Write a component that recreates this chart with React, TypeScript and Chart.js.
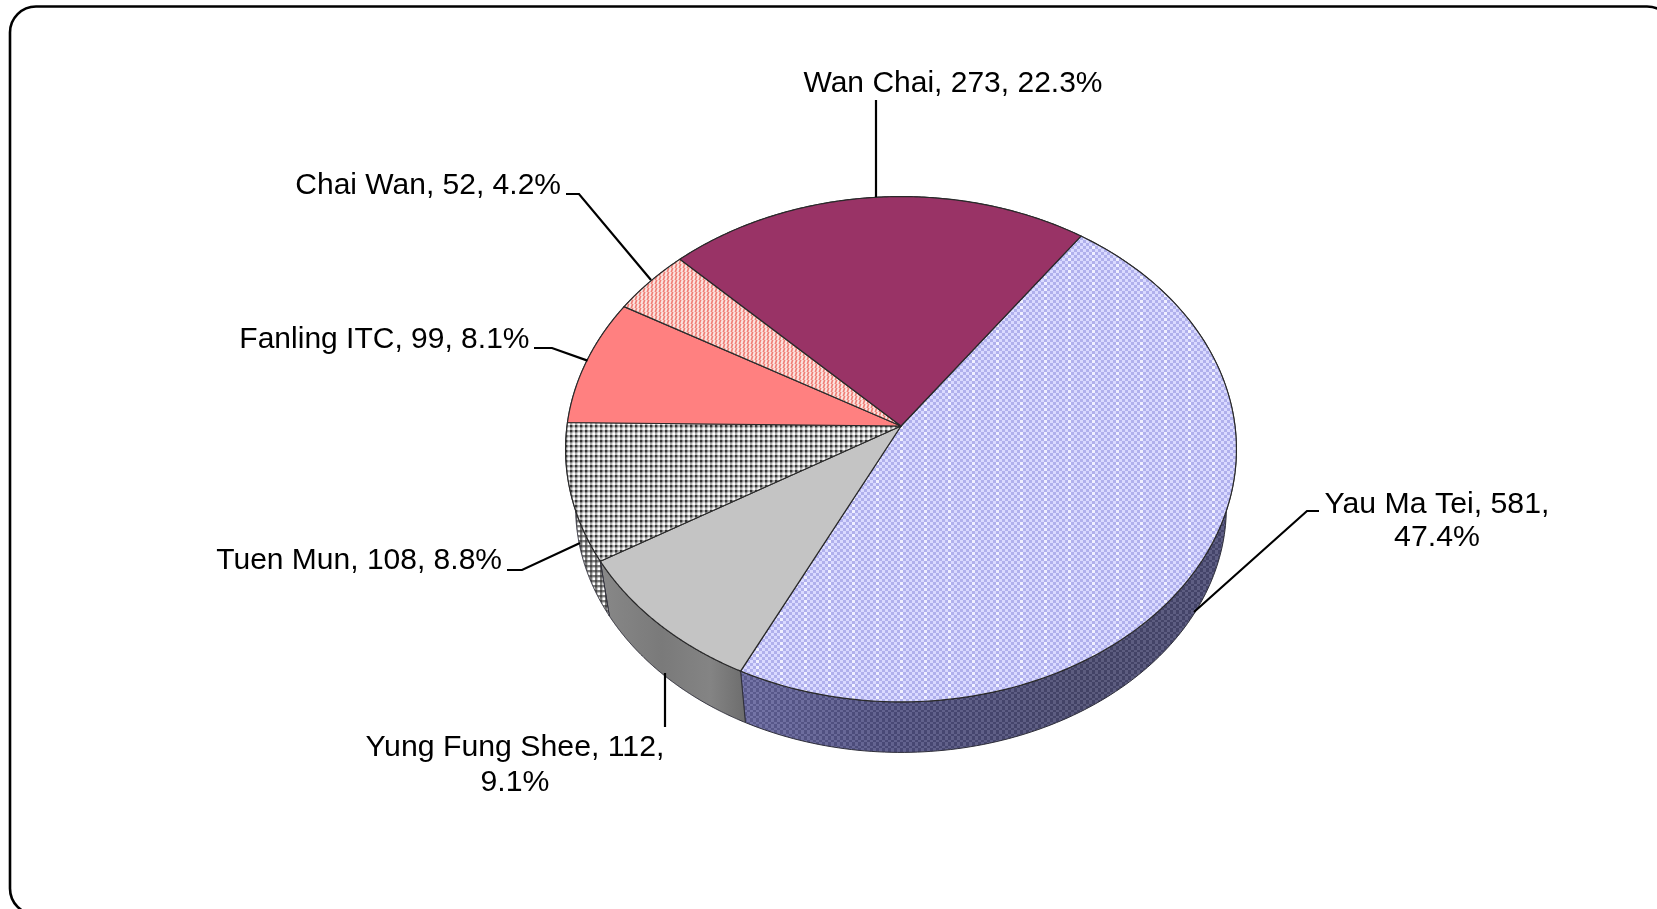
import React, { useEffect, useRef } from "react";
import { Chart, registerables } from "chart.js";

Chart.register(...registerables);

// ---- data ----
const categories = ["Yau Ma Tei", "Yung Fung Shee", "Tuen Mun", "Fanling ITC", "Chai Wan", "Wan Chai"];
const values = [581, 112, 108, 99, 52, 273];
const percents = ["47.4%", "9.1%", "8.8%", "8.1%", "4.2%", "22.3%"];

// ---- layout (not data) ----
const W = 1657;
const H = 909;
const TILT = 0.75; // vertical foreshortening of the disc
const PERSP = 0.092; // perspective strength
const BASE_SCALE = 0.97; // lower disc relative to upper disc
const BASE_DROP = 58.8; // px lower disc is shifted

type LabelLayout = { x: number; y: number; lh?: number; size: number; align: CanvasTextAlign; leader: number[][] };

function labelLines(i: number): string[] {
  const text = `${categories[i]}, ${values[i]}, ${percents[i]}`;
  if (i === 0 || i === 1) return [`${categories[i]}, ${values[i]},`, percents[i]];
  return [text];
}
const labelLayouts: LabelLayout[] = [
  { x: 1437, y: 505, lh: 33, size: 30.25, align: "center", leader: [[1319, 511], [1307, 511], [1194, 612]] },
  { x: 515, y: 748, lh: 35, size: 30.25, align: "center", leader: [[665, 727], [665, 673]] },
  { x: 502, y: 561, size: 30, align: "right", leader: [[507, 570], [522, 570], [580, 543]] },
  { x: 529.5, y: 340, size: 30, align: "right", leader: [[534, 348], [552, 348], [587.5, 360.6]] },
  { x: 561, y: 186, size: 30, align: "right", leader: [[566, 194], [579, 194], [651, 280]] },
  { x: 953, y: 84, size: 30, align: "center", leader: [[876, 100], [876, 197]] },
];

function makeTile(w: number, h: number, paint: (c: CanvasRenderingContext2D) => void) {
  const cv = document.createElement("canvas");
  cv.width = w;
  cv.height = h;
  paint(cv.getContext("2d")!);
  return cv;
}

const blueTile = () =>
  makeTile(24, 12, (c) => {
    for (let y = 0; y < 12; y += 3) {
      for (let x = 0; x < 24; x += 3) {
        const odd = (x / 3 + y / 3) % 2 === 1;
        c.fillStyle = odd ? "#b0b0ec" : "#dadaff";
        if (x === 12 && y % 6 === 0) c.fillStyle = "#f0f0ff";
        c.fillRect(x, y, 3, 3);
      }
    }
  });

const blueSideTile = () =>
  makeTile(6, 6, (c) => {
    for (let y = 0; y < 6; y += 2) {
      for (let x = 0; x < 6; x += 3) {
        const odd = (x / 3 + y / 2) % 2 === 1;
        c.fillStyle = odd ? "rgba(255,255,255,0.10)" : "rgba(0,0,0,0.10)";
        c.fillRect(x, y, 3, 2);
      }
    }
  });

const dotTile = (bands: number, dot: number, dark: string) =>
  makeTile(5, 5, (c) => {
    c.fillStyle = "#ffffff";
    c.fillRect(0, 0, 5, 5);
    c.fillStyle = `rgba(${dark},${bands})`;
    c.fillRect(0, 0, 2.4, 5);
    c.fillRect(2.4, 0, 2.6, 2.4);
    c.fillStyle = `rgba(${dark},${dot})`;
    c.fillRect(0, 0, 2.4, 2.4);
  });

const stripeTile = () =>
  makeTile(4, 4, (c) => {
    c.fillStyle = "#fbe4e0";
    c.fillRect(0, 0, 4, 4);
    c.strokeStyle = "#f08078";
    c.lineWidth = 1.7;
    c.beginPath();
    for (let i = -4; i <= 8; i += 4) {
      c.moveTo(i - 1, 5);
      c.lineTo(i + 1, -1);
    }
    c.stroke();
  });

const pie3d = {
  id: "pie3d",
  beforeDraw(chart: Chart) {
    const ctx = chart.ctx;
    ctx.save();
    ctx.fillStyle = "#ffffff";
    ctx.fillRect(0, 0, W, H);
    ctx.strokeStyle = "#000000";
    ctx.lineWidth = 2.6;
    ctx.beginPath();
    ctx.roundRect(10, 6.5, 1663, 908, 26);
    ctx.stroke();
    ctx.restore();
  },
  beforeDatasetsDraw(chart: Chart) {
    const ctx = chart.ctx;
    const arcs = chart.getDatasetMeta(0).data as any[];
    const first = arcs[0];
    const cx: number = first.x;
    const cy: number = first.y;
    const R: number = first.outerRadius;
    const b = R * TILT;

    const topPt = (t: number): [number, number] => {
      const u = Math.cos(t);
      const v = Math.sin(t);
      const w = 1 - PERSP * v;
      return [cx + (R * u) / w, cy + (b * v) / w];
    };
    const basePt = (t: number): [number, number] => {
      const u = Math.cos(t);
      const v = Math.sin(t);
      const w = 1 - PERSP * v;
      return [cx + (BASE_SCALE * R * u) / w, cy + BASE_DROP + (BASE_SCALE * b * v) / w];
    };

    const rep = (cv: HTMLCanvasElement) => ctx.createPattern(cv, "repeat")!;
    const grayGrad = ctx.createLinearGradient(590, 0, 750, 0);
    grayGrad.addColorStop(0, "#8a8a8a");
    grayGrad.addColorStop(0.45, "#7a7a7a");
    grayGrad.addColorStop(0.75, "#848484");
    grayGrad.addColorStop(1, "#6a6a6a");
    const blueGrad = ctx.createLinearGradient(740, 0, 1235, 0);
    blueGrad.addColorStop(0, "#66669f");
    blueGrad.addColorStop(0.3, "#505082");
    blueGrad.addColorStop(0.7, "#4a4a70");
    blueGrad.addColorStop(1, "#4c4c76");

    const topFills: (string | CanvasPattern)[] = [
      rep(blueTile()),
      "#c4c4c4",
      rep(dotTile(0.35, 0.85, "30,30,30")),
      "#ff8080",
      rep(stripeTile()),
      "#993366",
    ];
    const sideFills: (string | CanvasGradient | CanvasPattern)[] = [
      blueGrad,
      grayGrad,
      rep(dotTile(0.7, 0.95, "70,70,70")),
      "#b06060",
      "#b06060",
      "#6b2347",
    ];

    ctx.save();
    ctx.lineJoin = "round";

    // side walls first; the top face covers the parts that are out of view
    arcs.forEach((arc, i) => {
      const n = 160;
      ctx.beginPath();
      for (let k = 0; k <= n; k++) {
        const p = topPt(arc.startAngle + ((arc.endAngle - arc.startAngle) * k) / n);
        if (k === 0) ctx.moveTo(p[0], p[1]);
        else ctx.lineTo(p[0], p[1]);
      }
      for (let k = n; k >= 0; k--) {
        const p = basePt(arc.startAngle + ((arc.endAngle - arc.startAngle) * k) / n);
        ctx.lineTo(p[0], p[1]);
      }
      ctx.closePath();
      ctx.fillStyle = sideFills[i];
      ctx.fill();
      if (i === 0) {
        ctx.fillStyle = rep(blueSideTile());
        ctx.fill();
      }
      ctx.strokeStyle = "#2f2f3a";
      ctx.lineWidth = 1;
      ctx.stroke();
    });

    // top face
    arcs.forEach((arc, i) => {
      const n = 160;
      ctx.beginPath();
      ctx.moveTo(cx, cy);
      for (let k = 0; k <= n; k++) {
        const p = topPt(arc.startAngle + ((arc.endAngle - arc.startAngle) * k) / n);
        ctx.lineTo(p[0], p[1]);
      }
      ctx.closePath();
      ctx.fillStyle = topFills[i];
      ctx.fill();
      ctx.strokeStyle = "#2a2a2a";
      ctx.lineWidth = 1.2;
      ctx.stroke();
    });
    ctx.restore();
    return false;
  },
  afterDraw(chart: Chart) {
    const ctx = chart.ctx;
    ctx.save();
    ctx.strokeStyle = "#000000";
    ctx.lineWidth = 2.2;
    labelLayouts.forEach((l) => {
      ctx.beginPath();
      l.leader.forEach((p, k) => (k === 0 ? ctx.moveTo(p[0], p[1]) : ctx.lineTo(p[0], p[1])));
      ctx.stroke();
    });
    ctx.fillStyle = "#000000";
    ctx.textBaseline = "middle";
    labelLayouts.forEach((l, i) => {
      ctx.font = `${l.size}px "Liberation Sans", Arial, sans-serif`;
      ctx.textAlign = l.align;
      labelLines(i).forEach((t, k) => ctx.fillText(t, l.x, l.y + k * (l.lh ?? 0)));
    });
    ctx.restore();
  },
};

export default function App() {
  const ref = useRef<HTMLCanvasElement | null>(null);
  useEffect(() => {
    const chart = new Chart(ref.current!, {
      type: "pie",
      data: {
        labels: categories,
        datasets: [{ data: values, borderWidth: 0, hoverOffset: 0 }],
      },
      options: {
        animation: false,
        responsive: false,
        rotation: 35.4,
        events: [],
        layout: { padding: { left: 567, right: 422, top: 92, bottom: 149 } },
        plugins: { legend: { display: false }, tooltip: { enabled: false }, title: { display: false } },
      },
      plugins: [pie3d],
    } as any);
    return () => chart.destroy();
  }, []);
  return (
    <div style={{ position: "fixed", left: 0, top: 0, width: W, height: H, overflow: "hidden", background: "#fff" }}>
      <canvas ref={ref} width={W} height={H} style={{ display: "block", width: W, height: H }} />
    </div>
  );
}
